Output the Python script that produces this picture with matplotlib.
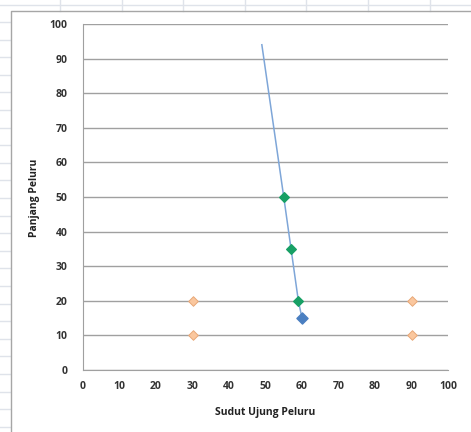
import matplotlib
matplotlib.use("Agg")
import matplotlib.pyplot as plt
from matplotlib.lines import Line2D

# Data
line_x = [49, 55, 57, 59, 60]
line_y = [94, 50, 35, 20, 15]
green_x = [55, 57, 59]
green_y = [50, 35, 20]
blue_x = [60]
blue_y = [15]
orange_x = [30, 30, 90, 90]
orange_y = [20, 10, 20, 10]
ticks = [0, 10, 20, 30, 40, 50, 60, 70, 80, 90, 100]

plt.rcParams['font.family'] = ['Open Sans', 'DejaVu Sans']

W, H = 471, 432
fig = plt.figure(figsize=(W / 100, H / 100), dpi=100)
fig.patch.set_facecolor('white')

# spreadsheet background lines
gc = '#dfe3ea'
fig.add_artist(Line2D([0, 1], [1 - 4.5 / H] * 2, color=gc, lw=1, transform=fig.transFigure))
for xv in [60, 122, 183, 245, 306, 368, 430]:
    fig.add_artist(Line2D([xv / W] * 2, [1 - 0 / H, 1 - 11 / H], color=gc, lw=1, transform=fig.transFigure))
yy = 22
while yy < H:
    fig.add_artist(Line2D([0, 10 / W], [1 - yy / H] * 2, color=gc, lw=1, transform=fig.transFigure))
    yy += 17.6
# chart area border
fig.add_artist(Line2D([11 / W, 11 / W, 1], [0, 1 - 11 / H, 1 - 11 / H], color='#a6a6a6', lw=1, transform=fig.transFigure))

ax = fig.add_axes([83 / W, 1 - 370 / H, (448 - 83) / W, (370 - 24) / H])
ax.set_xlim(0, 100)
ax.set_ylim(0, 100)
ax.set_xticks(ticks)
ax.set_yticks(ticks)
ax.grid(axis='y', color='#a0a0a0', lw=1)
ax.set_axisbelow(True)
for s in ['top', 'right']:
    ax.spines[s].set_visible(False)
ax.spines['left'].set_color('#a0a0a0')
ax.spines['bottom'].set_color('#a0a0a0')
ax.tick_params(length=0, labelsize=7.5, colors='#333333', pad=8)
ax.tick_params(axis='y', pad=11)
for lab in ax.get_xticklabels() + ax.get_yticklabels():
    lab.set_fontweight('bold')

ax.plot(line_x, line_y, color='#7ea6d8', lw=1.1, zorder=3)
ax.scatter(orange_x, orange_y, marker='D', s=24, facecolor='#fac79e', edgecolor='#e8a878', lw=0.7, zorder=4)
ax.scatter(green_x, green_y, marker='D', s=24, color='#17a065', zorder=5)
ax.scatter(blue_x, blue_y, marker='D', s=32, color='#4a7fc1', zorder=5)

fig.text(265 / W, 1 - 412 / H, 'Sudut Ujung Peluru', ha='center', va='center', fontsize=7.5, fontweight='bold', color='#222222')
fig.text(35 / W, 1 - 198 / H, 'Panjang Peluru', ha='center', va='center', rotation=90, fontsize=7.5, fontweight='bold', color='#222222')

fig.savefig('out.png', dpi=100, facecolor='white')
